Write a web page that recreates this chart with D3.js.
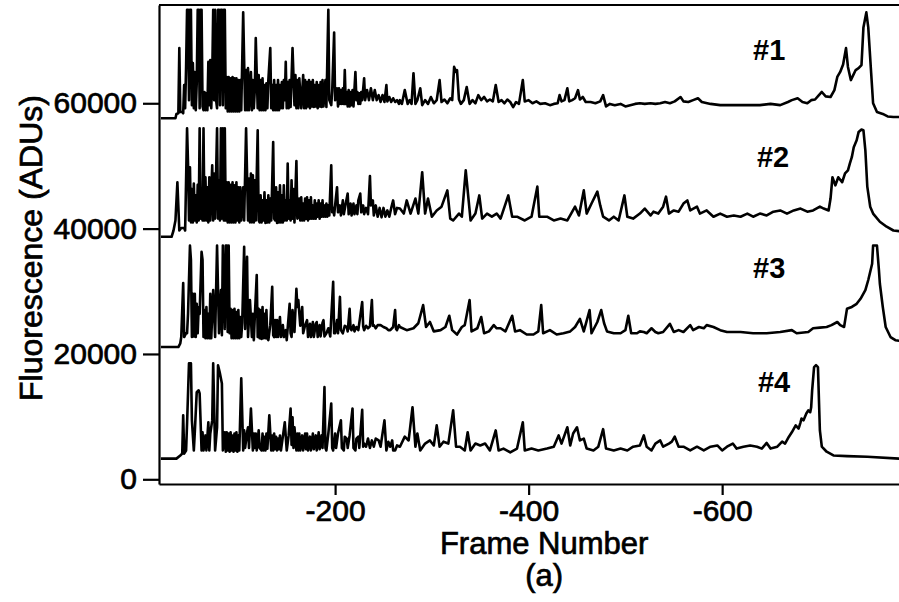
<!DOCTYPE html>
<html>
  <head>
    <meta charset="utf-8">
    <title>Fluorescence traces</title>
    <script src="https://d3js.org/d3.v7.min.js"></script>
    <style>
      body { margin: 0; background: #fff; }
      svg { display: block; font-family: "Liberation Sans", Arial, sans-serif; }
      .trace { fill: none; stroke: #000; stroke-width: 2.6; stroke-linejoin: round; }
      .axis path, .axis line { stroke: #000; stroke-width: 2.2; }
      .heavy { stroke: #000; stroke-width: 0.7; }
    </style>
  </head>
  <body>
    <script>

        // axis extents and ticks
        const frameRange = [-18, -790],
              aduRange   = [-750, 75680],
              xTicks     = [-200, -400, -600],
              yTicks     = [0, 20000, 40000, 60000]

        const traceNames = ['#1', '#2', '#3', '#4']

        // [frame, ADUs]
        const trace1 = [[-20,57600],[-35,57600],[-36,58300],[-38,58400],[-39,68800],[-40,58600],[-42,58600],[-43,58400],[-44,62900],[-45,59200],[-46,65800],[-47,74900],[-48,74900],[-49,60500],[-50,74900],[-51,74900],[-52,59700],[-53,66400],[-54,59200],[-55,65000],[-56,58900],[-57,63200],[-58,74900],[-59,74900],[-60,59200],[-61,74900],[-62,74900],[-63,59500],[-64,58900],[-65,61800],[-66,58900],[-67,61600],[-68,58900],[-69,66600],[-70,59700],[-71,66900],[-72,59200],[-73,64200],[-74,74900],[-75,60500],[-76,74900],[-77,60500],[-78,59200],[-79,74900],[-80,74900],[-81,59700],[-82,74900],[-83,74900],[-84,59700],[-85,74900],[-86,74900],[-87,59200],[-88,64200],[-89,58700],[-90,64200],[-91,58700],[-92,64000],[-93,58700],[-94,64200],[-95,58700],[-96,64000],[-97,58700],[-98,64000],[-99,58700],[-100,63700],[-101,58700],[-102,63700],[-103,58900],[-105,74500],[-107,58900],[-108,65300],[-109,58900],[-110,65600],[-111,58900],[-113,65000],[-114,58900],[-115,63700],[-116,59200],[-117,62100],[-118,70400],[-120,59200],[-121,64500],[-122,58900],[-123,63700],[-124,58900],[-125,64000],[-126,58900],[-127,62900],[-128,58900],[-129,63200],[-130,59200],[-131,63700],[-133,68800],[-134,59200],[-135,62900],[-136,58900],[-137,63700],[-138,58900],[-139,62900],[-140,58900],[-141,63700],[-142,58900],[-143,62900],[-144,59200],[-145,63400],[-146,59200],[-147,63700],[-148,60500],[-149,66600],[-150,59200],[-151,63400],[-152,59200],[-153,63700],[-154,59400],[-156,68800],[-158,59700],[-159,64500],[-160,59200],[-161,63700],[-162,59200],[-163,64000],[-165,59200],[-167,64500],[-168,59200],[-169,63700],[-170,59200],[-171,63400],[-172,59500],[-173,63700],[-174,59200],[-175,63400],[-176,59500],[-177,63700],[-178,59400],[-179,62900],[-180,59500],[-181,63400],[-182,59200],[-183,62900],[-184,59500],[-185,63400],[-186,59400],[-187,63700],[-188,59500],[-190,63700],[-191,59400],[-193,74900],[-194,60500],[-196,59700],[-197,62000],[-199,71300],[-200,60500],[-201,61300],[-202,62400],[-203,59500],[-204,62400],[-205,59900],[-206,62100],[-207,59900],[-208,62400],[-209,59900],[-210,65300],[-211,59900],[-212,61800],[-213,59500],[-214,62100],[-215,59500],[-216,61800],[-217,59700],[-218,62100],[-219,59500],[-221,65000],[-222,60500],[-223,61800],[-224,59900],[-225,61600],[-226,59900],[-227,61800],[-228,60500],[-230,64000],[-231,60500],[-233,62100],[-235,60500],[-237,62400],[-239,60500],[-241,62100],[-243,60500],[-245,61300],[-247,60200],[-249,61300],[-251,60200],[-253,62900],[-254,60300],[-256,61000],[-258,60200],[-260,60800],[-262,60200],[-264,60500],[-266,59900],[-267,60500],[-269,59900],[-272,62100],[-275,59900],[-277,60500],[-279,59900],[-281,64800],[-283,59900],[-285,60500],[-288,62400],[-290,59700],[-293,60500],[-296,59900],[-299,61000],[-302,60000],[-305,60500],[-308,63700],[-310,60200],[-313,60600],[-316,60000],[-319,60800],[-321,60500],[-323,65800],[-325,65000],[-326,65300],[-328,60600],[-330,59900],[-333,60500],[-336,62600],[-339,59900],[-342,60500],[-345,60000],[-348,61300],[-351,60500],[-354,61000],[-357,60300],[-360,60600],[-363,60300],[-366,62900],[-369,60200],[-372,60500],[-375,60000],[-378,60600],[-381,60200],[-384,59400],[-387,60200],[-390,59900],[-394,63700],[-396,60300],[-400,60500],[-404,60000],[-408,60300],[-412,59900],[-417,60000],[-422,59700],[-426,59900],[-430,60000],[-432,61300],[-434,60300],[-437,60500],[-440,62400],[-442,60300],[-445,60500],[-448,60800],[-451,62100],[-453,60600],[-456,61000],[-459,60200],[-464,60200],[-469,60000],[-474,60300],[-477,61300],[-480,59500],[-484,59900],[-489,59700],[-495,59900],[-500,59500],[-505,59700],[-510,59900],[-515,60000],[-520,59900],[-526,60000],[-531,59900],[-536,60000],[-541,60200],[-546,60000],[-551,60300],[-557,61000],[-560,60300],[-565,60200],[-570,60500],[-575,60800],[-579,60200],[-588,59900],[-598,59700],[-608,59700],[-619,59700],[-629,59700],[-639,59700],[-650,59900],[-660,59700],[-668,60200],[-672,60500],[-678,60800],[-683,60200],[-688,60000],[-692,60500],[-696,60600],[-700,61300],[-703,61800],[-707,61100],[-712,61000],[-716,62100],[-719,64200],[-722,65000],[-725,66200],[-728,68800],[-730,65800],[-733,63700],[-738,65300],[-741,65600],[-744,66100],[-746,72100],[-749,74500],[-751,72100],[-754,64800],[-756,60000],[-760,58600],[-766,58300],[-771,57900],[-777,57800],[-783,57800],[-790,57800]]

        const trace2 = [[-20,38700],[-31,38700],[-33,39700],[-35,41300],[-37,47400],[-39,39700],[-41,40100],[-44,40100],[-45,39700],[-47,56000],[-48,50400],[-49,41300],[-50,49800],[-51,41000],[-52,46300],[-53,41000],[-54,47200],[-55,41300],[-56,45300],[-57,41000],[-58,47000],[-59,41300],[-60,56000],[-61,41600],[-62,45300],[-63,41300],[-64,56000],[-65,41300],[-66,48200],[-67,41300],[-68,46600],[-69,41000],[-70,48200],[-71,41300],[-72,45800],[-73,50100],[-74,41300],[-75,48800],[-76,41600],[-78,56000],[-79,41600],[-80,47700],[-81,41300],[-82,56000],[-83,41600],[-84,56000],[-85,41300],[-86,56000],[-87,41300],[-88,47400],[-89,41000],[-90,47400],[-91,41000],[-92,47000],[-93,41000],[-94,47400],[-95,41000],[-96,46900],[-97,41000],[-98,47400],[-99,41300],[-100,46600],[-101,41000],[-102,46600],[-103,41300],[-105,46600],[-106,41300],[-108,56000],[-110,41300],[-111,48000],[-112,41000],[-113,48800],[-114,41000],[-115,48500],[-116,41000],[-117,47700],[-118,41300],[-120,55700],[-121,41300],[-122,41000],[-123,45300],[-124,41000],[-125,44500],[-126,41300],[-127,45800],[-128,40900],[-129,44500],[-130,41000],[-131,45300],[-132,41000],[-133,44800],[-134,41300],[-136,53800],[-137,41600],[-138,41300],[-139,46600],[-140,40900],[-141,45800],[-142,41000],[-143,46900],[-144,41000],[-145,45300],[-146,41000],[-147,46900],[-148,41300],[-149,44500],[-150,41300],[-151,50400],[-152,41600],[-153,44500],[-154,41300],[-155,47700],[-156,41600],[-157,46300],[-158,41000],[-160,50800],[-161,41600],[-162,41900],[-163,44800],[-164,41300],[-165,45000],[-166,41300],[-167,44000],[-168,41300],[-169,44800],[-170,41600],[-171,45000],[-172,41300],[-173,44500],[-174,41600],[-175,45000],[-176,41600],[-177,43700],[-178,41600],[-179,44500],[-180,41600],[-181,44000],[-182,41900],[-183,44500],[-184,41600],[-185,44000],[-186,41900],[-187,44500],[-188,41900],[-189,43700],[-190,41900],[-191,44000],[-192,41900],[-193,43700],[-194,42100],[-196,50100],[-197,42600],[-198,43300],[-199,42100],[-200,43700],[-202,46600],[-203,42600],[-205,43700],[-206,42100],[-208,44500],[-209,42300],[-211,44000],[-213,45600],[-214,42300],[-216,44000],[-217,42100],[-219,44000],[-220,42300],[-222,43700],[-223,42300],[-224,44500],[-226,45600],[-227,42600],[-229,43700],[-230,42300],[-232,43300],[-234,42300],[-236,48400],[-237,43700],[-239,44500],[-240,42100],[-242,43700],[-244,41900],[-246,43300],[-248,41800],[-250,43300],[-252,41900],[-254,42900],[-256,41900],[-258,43300],[-260,44500],[-262,42300],[-264,43300],[-267,43200],[-271,42400],[-274,44500],[-278,42400],[-283,44800],[-286,42400],[-290,49000],[-293,42400],[-296,44800],[-300,41900],[-305,42900],[-310,43500],[-316,46100],[-319,41600],[-322,41300],[-328,42400],[-331,41900],[-335,49300],[-338,44500],[-340,41300],[-345,42400],[-349,45300],[-352,41600],[-357,42400],[-362,41900],[-367,42400],[-371,41600],[-379,45300],[-383,41900],[-388,41900],[-396,41300],[-403,41900],[-409,46700],[-411,41900],[-419,41900],[-426,41300],[-433,41600],[-440,41300],[-448,43500],[-452,42100],[-457,46100],[-460,42400],[-465,44000],[-471,45900],[-474,43700],[-477,41900],[-483,41300],[-488,41900],[-493,41300],[-499,45300],[-502,41900],[-508,41600],[-515,42400],[-520,43200],[-526,42100],[-529,42700],[-534,42400],[-539,43500],[-542,45100],[-545,42400],[-550,42900],[-555,42700],[-560,44000],[-564,44500],[-567,42900],[-574,43500],[-577,42400],[-584,42900],[-591,41900],[-598,42400],[-605,41900],[-612,42100],[-619,41900],[-626,42400],[-632,41900],[-639,42400],[-646,42100],[-653,42700],[-660,42900],[-667,42400],[-674,42900],[-681,43200],[-688,42700],[-694,42900],[-701,43500],[-705,43200],[-710,42900],[-712,44800],[-714,48200],[-717,46900],[-720,48200],[-724,47400],[-727,48800],[-730,49300],[-732,50400],[-734,51400],[-736,53000],[-739,54100],[-741,55400],[-744,55800],[-746,55700],[-748,52500],[-750,46700],[-753,43500],[-756,42400],[-763,41100],[-770,40300],[-777,39700],[-783,39600],[-790,39500]]

        const trace3 = [[-20,21100],[-38,21100],[-40,21700],[-41,22700],[-43,31300],[-44,22700],[-46,23300],[-47,23300],[-48,26400],[-50,37300],[-51,35000],[-52,22700],[-53,29600],[-54,22800],[-55,29600],[-56,22700],[-57,28000],[-58,23300],[-59,27500],[-60,26400],[-62,36300],[-63,35000],[-64,22700],[-65,27000],[-66,22500],[-67,27500],[-68,22500],[-69,26400],[-70,22500],[-71,29600],[-72,22500],[-74,30200],[-76,22700],[-78,37300],[-80,23300],[-82,30200],[-83,23000],[-84,37300],[-86,24000],[-87,37300],[-88,37300],[-89,23500],[-90,37300],[-91,23300],[-92,27200],[-93,22500],[-94,27000],[-95,22500],[-96,27200],[-97,22500],[-98,26700],[-99,22500],[-100,27000],[-101,22500],[-102,25900],[-103,22700],[-104,25000],[-106,37100],[-107,24000],[-109,35500],[-110,22700],[-112,28600],[-114,22700],[-115,26400],[-116,22200],[-117,25900],[-119,32600],[-120,22700],[-121,27200],[-122,22500],[-123,27000],[-124,22400],[-125,27500],[-126,22500],[-127,26400],[-128,22500],[-129,27000],[-130,22500],[-131,22200],[-133,24600],[-135,30700],[-136,23000],[-137,22700],[-138,25400],[-139,22700],[-140,25400],[-141,22700],[-143,25900],[-144,22700],[-146,24600],[-147,22700],[-149,23800],[-150,22200],[-153,28000],[-154,23300],[-155,22700],[-156,27000],[-158,23500],[-160,30400],[-161,27500],[-162,28600],[-164,24500],[-166,27500],[-167,23300],[-169,24600],[-171,25400],[-172,22700],[-174,24800],[-175,22700],[-177,25100],[-178,22700],[-180,24800],[-181,25100],[-182,22700],[-184,24600],[-185,22800],[-187,25000],[-188,25400],[-189,22800],[-191,23300],[-193,24100],[-195,22800],[-198,31500],[-199,23300],[-200,23300],[-202,25400],[-203,23300],[-205,29100],[-206,23800],[-208,23300],[-210,24500],[-212,24300],[-213,23600],[-215,27200],[-216,24000],[-217,23800],[-219,24600],[-220,23600],[-222,24300],[-224,23800],[-228,28300],[-229,24400],[-230,23800],[-232,24500],[-234,24100],[-236,24400],[-238,28600],[-239,24500],[-240,24600],[-242,24100],[-244,24600],[-247,24600],[-250,24300],[-253,24100],[-255,23800],[-257,23800],[-260,24300],[-262,27000],[-263,24000],[-264,23800],[-266,24600],[-267,24300],[-274,23800],[-281,24100],[-286,24900],[-291,27800],[-294,24300],[-298,25100],[-302,23600],[-309,23800],[-314,24300],[-318,26100],[-321,23800],[-326,23100],[-331,24300],[-334,24600],[-339,28600],[-341,23600],[-347,24100],[-351,25900],[-354,23300],[-359,23600],[-364,24600],[-367,24100],[-371,24100],[-376,23600],[-383,26100],[-386,23600],[-391,23800],[-398,23100],[-405,23100],[-410,23600],[-413,27800],[-415,23300],[-422,23800],[-429,23100],[-436,23300],[-443,23600],[-448,24300],[-453,25600],[-457,23600],[-463,27000],[-465,23300],[-471,25100],[-475,27000],[-478,24900],[-481,23600],[-488,23300],[-495,23300],[-500,23800],[-503,26100],[-506,23300],[-512,23300],[-515,23600],[-519,23500],[-522,23300],[-527,24100],[-531,23500],[-534,23300],[-539,23500],[-546,24800],[-550,23500],[-555,23800],[-560,23500],[-567,24600],[-570,23800],[-576,24300],[-581,24100],[-584,24600],[-591,24300],[-598,23800],[-605,23500],[-619,23500],[-632,23300],[-646,23300],[-660,23500],[-672,23800],[-677,23300],[-689,23500],[-694,24100],[-701,24200],[-708,24300],[-713,24600],[-719,25100],[-722,24600],[-726,24300],[-729,27200],[-734,27500],[-739,28000],[-743,28800],[-748,30200],[-751,31800],[-755,34400],[-756,37300],[-760,37300],[-762,33400],[-763,31200],[-766,27500],[-769,24300],[-774,22700],[-779,22200],[-783,22100],[-790,22000]]

        const trace4 = [[-20,3300],[-36,3300],[-40,3800],[-42,4100],[-43,10200],[-44,4100],[-46,4600],[-47,8900],[-49,18500],[-51,18500],[-52,9400],[-54,4600],[-55,7500],[-57,13900],[-59,14200],[-60,13700],[-62,4600],[-63,7500],[-64,4600],[-66,7000],[-67,4600],[-69,9100],[-70,4600],[-71,7300],[-73,9400],[-74,18500],[-76,4600],[-78,8300],[-79,18200],[-81,16900],[-83,15300],[-84,4600],[-86,7500],[-87,4400],[-88,7500],[-89,4600],[-90,7300],[-91,4400],[-92,7500],[-93,4600],[-94,7000],[-95,4400],[-96,7300],[-97,4600],[-98,7500],[-99,4400],[-100,7000],[-101,4600],[-103,16100],[-105,4600],[-106,7800],[-107,5000],[-109,7500],[-110,8300],[-111,5000],[-113,11300],[-115,4600],[-116,7300],[-117,5000],[-118,7300],[-119,4600],[-121,7800],[-122,5000],[-124,4600],[-125,7300],[-126,4600],[-127,6800],[-128,4600],[-129,7300],[-130,4900],[-132,10200],[-134,4600],[-135,7000],[-136,4600],[-137,7300],[-138,4800],[-139,6800],[-140,4600],[-141,6500],[-142,4800],[-143,7000],[-144,4600],[-146,6800],[-148,9100],[-150,4600],[-152,7000],[-154,11300],[-155,5500],[-156,9900],[-157,5000],[-158,8300],[-160,4600],[-161,7300],[-162,4600],[-163,7300],[-164,4600],[-166,7000],[-167,4600],[-169,7300],[-170,4800],[-171,7300],[-172,4600],[-174,6800],[-175,4600],[-177,7300],[-178,4800],[-180,7000],[-181,4600],[-183,7500],[-184,4800],[-186,7000],[-187,5000],[-189,14700],[-190,5000],[-191,4600],[-193,7300],[-196,12100],[-197,5000],[-198,4600],[-200,7300],[-201,5000],[-203,7300],[-206,9400],[-207,5000],[-209,4600],[-210,6800],[-212,6500],[-213,5000],[-215,7000],[-218,11300],[-219,5000],[-221,4600],[-222,6500],[-224,6800],[-225,5000],[-228,11100],[-229,5200],[-230,5700],[-232,5200],[-234,6500],[-236,5000],[-238,6200],[-240,5200],[-242,6500],[-245,6200],[-247,5200],[-251,9400],[-253,4600],[-255,6000],[-257,5200],[-259,6200],[-260,4600],[-262,4600],[-264,5400],[-267,5200],[-272,6800],[-276,6200],[-280,11500],[-283,5200],[-285,7300],[-288,4600],[-293,5700],[-298,6200],[-302,5400],[-305,8600],[-308,5200],[-312,6000],[-317,5700],[-322,11000],[-325,5200],[-329,5200],[-334,4600],[-337,7500],[-340,4600],[-345,5700],[-350,5400],[-355,5700],[-360,4600],[-366,7800],[-369,4600],[-374,4900],[-381,4300],[-388,4900],[-394,9100],[-396,4600],[-403,4900],[-410,4600],[-419,4900],[-426,5200],[-431,7000],[-434,5700],[-440,8300],[-443,5400],[-446,7300],[-450,8300],[-453,6200],[-457,6500],[-460,4900],[-467,4600],[-472,5200],[-477,8000],[-480,4900],[-488,4600],[-495,4900],[-502,4600],[-508,5200],[-515,5400],[-519,7000],[-522,5200],[-527,4600],[-531,5700],[-536,6200],[-539,5200],[-545,5700],[-548,6000],[-551,6800],[-555,5200],[-560,5200],[-567,4600],[-574,5200],[-581,4600],[-588,5200],[-595,5400],[-600,4600],[-605,5200],[-611,5700],[-615,4900],[-622,5200],[-629,5400],[-636,5200],[-641,4900],[-646,5800],[-650,4900],[-657,5200],[-662,6000],[-665,5700],[-669,6800],[-672,7500],[-676,8600],[-679,8100],[-681,9100],[-682,9700],[-684,9400],[-687,10500],[-689,11000],[-691,10700],[-692,11500],[-693,14200],[-695,17900],[-697,18200],[-699,17900],[-701,7800],[-703,5200],[-708,4400],[-715,3800],[-729,3700],[-750,3600],[-783,3300],[-790,3300]]

        const traces = [trace1, trace2, trace3, trace4]

        const width = 899, height = 602

        let svg = d3.select('body').append('svg')
                .attr('width', width)
                .attr('height', height),

            x = d3.scaleLinear().domain(frameRange).range([159, 906]),
            y = d3.scaleLinear().domain(aduRange).range([484, 5])

        // clip the traces to the plot box
        svg.append('clipPath').attr('id', 'plotClip')
            .append('rect')
            .attr('x', x(frameRange[0]))
            .attr('y', y(aduRange[1]))
            .attr('width', x(frameRange[1]) - x(frameRange[0]))
            .attr('height', y(aduRange[0]) - y(aduRange[1]))

        let line = d3.line()
            .x(d => x(d[0]))
            .y(d => y(d[1]))

        svg.append('g')
            .attr('clip-path', 'url(#plotClip)')
            .selectAll('path')
            .data(traces)
            .join('path')
            .attr('class', 'trace')
            .attr('d', line)

        // left axis
        let yAxis = svg.append('g')
            .attr('class', 'axis')
            .attr('transform', `translate(${x(frameRange[0])},0)`)
            .call(d3.axisLeft(y)
                .tickValues(yTicks)
                .tickSize(16)
                .tickPadding(6)
                .tickSizeOuter(0)
                .tickFormat(d3.format('d')))
        yAxis.attr('font-size', 30).attr('font-family', null)
        yAxis.selectAll('text').attr('class', 'heavy')

        // bottom axis
        let xAxis = svg.append('g')
            .attr('class', 'axis')
            .attr('transform', `translate(0,${y(aduRange[0])})`)
            .call(d3.axisBottom(x)
                .tickValues(xTicks)
                .tickSize(11)
                .tickPadding(5)
                .tickSizeOuter(0)
                .tickFormat(d => String(d)))
        xAxis.attr('font-size', 30).attr('font-family', null)
        xAxis.selectAll('text').attr('class', 'heavy')

        // top edge of the box
        svg.append('path')
            .attr('d', d3.line()([[x(frameRange[0]), y(aduRange[1])], [x(frameRange[1]), y(aduRange[1])]]))
            .attr('stroke', '#000')
            .attr('stroke-width', 2.2)

        // trace labels
        let labelAt = [[-632, 66900], [-636, 49900], [-632, 32100], [-637, 14000]]
        svg.append('g')
            .selectAll('text')
            .data(traceNames)
            .join('text')
            .attr('x', (d, i) => x(labelAt[i][0]))
            .attr('y', (d, i) => y(labelAt[i][1]))
            .attr('font-size', 29)
            .attr('font-weight', 'bold')
            .text(d => d)

        // axis titles
        svg.append('text')
            .attr('class', 'heavy')
            .attr('x', x(-416))
            .attr('y', 554)
            .attr('text-anchor', 'middle')
            .attr('font-size', 31)
            .text('Frame Number')

        svg.append('text')
            .attr('class', 'heavy')
            .attr('x', x(-416))
            .attr('y', 586)
            .attr('text-anchor', 'middle')
            .attr('font-size', 31)
            .text('(a)')

        svg.append('text')
            .attr('class', 'heavy')
            .attr('transform', 'translate(42,248) rotate(-90)')
            .attr('text-anchor', 'middle')
            .attr('font-size', 32)
            .text('Fluorescence (ADUs)')

    </script>
  </body>
</html>
